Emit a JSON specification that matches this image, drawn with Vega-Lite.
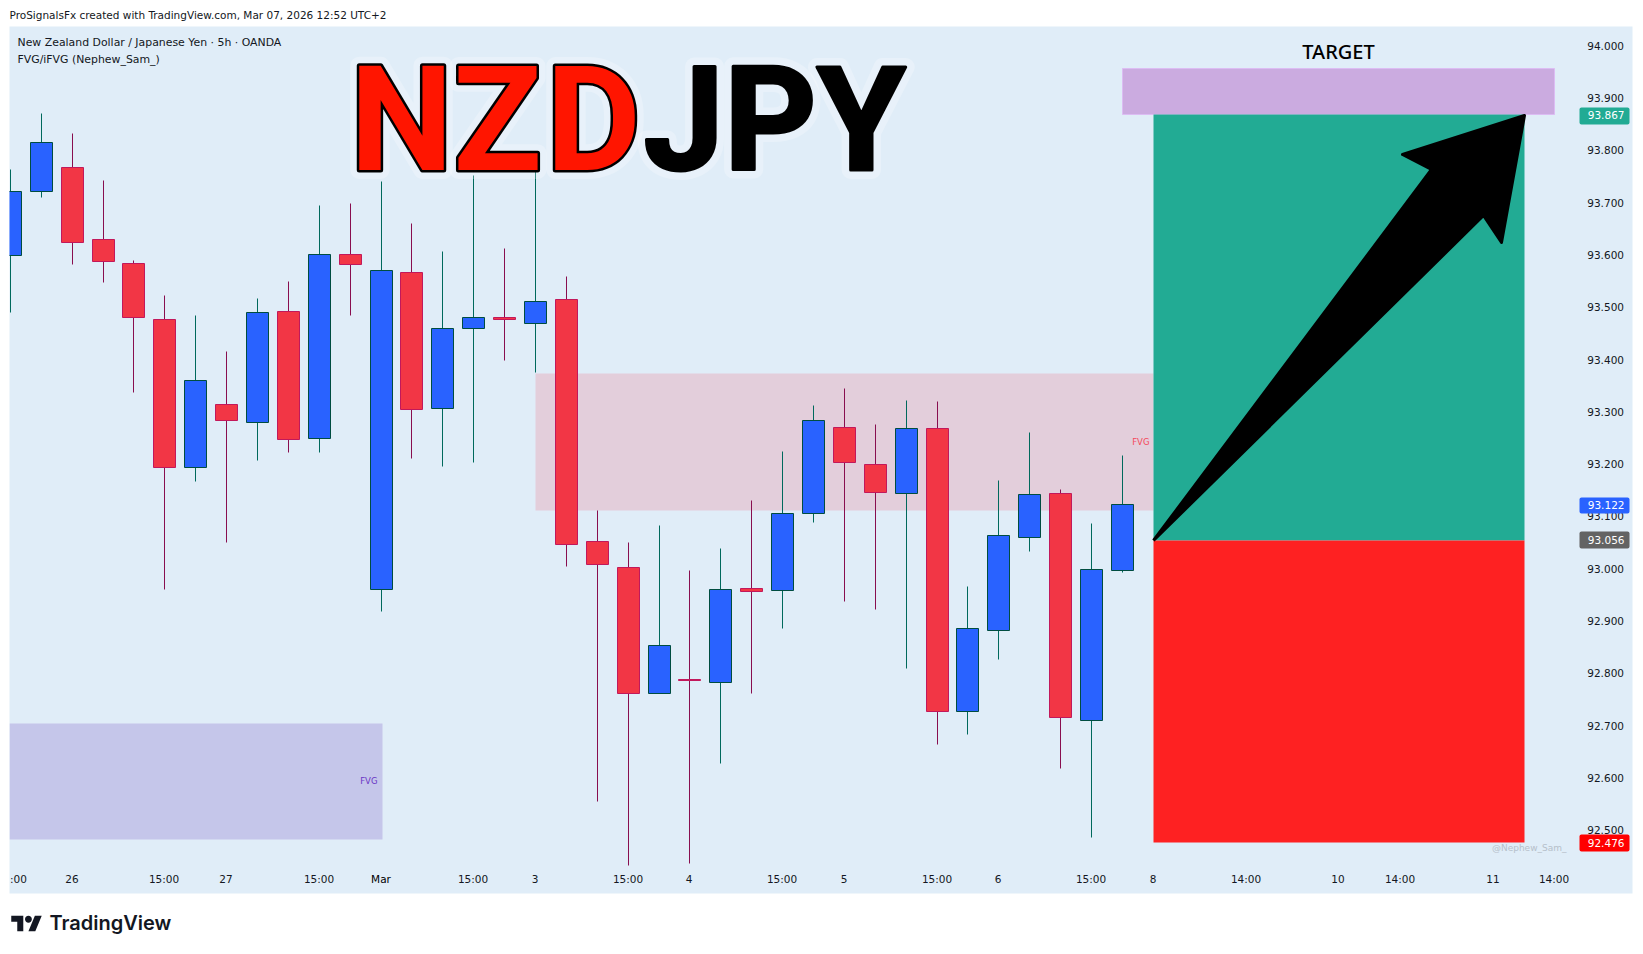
{
  "$schema": "https://vega.github.io/schema/vega-lite/v6.json",
  "background": "white",
  "autosize": {"type": "none"},
  "padding": {"left": 9.5, "top": 26.5, "right": 10.5, "bottom": 60.5},
  "width": 1623,
  "height": 867,
  "title": {
    "text": "ProSignalsFx created with TradingView.com, Mar 07, 2026 12:52 UTC+2",
    "anchor": "start",
    "frame": "group",
    "offset": 5,
    "font": "DejaVu Sans",
    "fontSize": 10.5,
    "fontWeight": "normal",
    "color": "#131722"
  },
  "config": {"view": {"fill": "#e0edf8", "stroke": null}},
  "datasets": {
    "candles": [
      {"bar": 0, "open": 93.598, "high": 93.762, "low": 93.489, "close": 93.721, "dir": "up"},
      {"bar": 1, "open": 93.721, "high": 93.869, "low": 93.709, "close": 93.814, "dir": "up"},
      {"bar": 2, "open": 93.767, "high": 93.832, "low": 93.580, "close": 93.623, "dir": "down"},
      {"bar": 3, "open": 93.629, "high": 93.742, "low": 93.546, "close": 93.587, "dir": "down"},
      {"bar": 4, "open": 93.583, "high": 93.589, "low": 93.336, "close": 93.480, "dir": "down"},
      {"bar": 5, "open": 93.476, "high": 93.521, "low": 92.959, "close": 93.193, "dir": "down"},
      {"bar": 6, "open": 93.193, "high": 93.484, "low": 93.165, "close": 93.359, "dir": "up"},
      {"bar": 7, "open": 93.313, "high": 93.415, "low": 93.049, "close": 93.283, "dir": "down"},
      {"bar": 8, "open": 93.279, "high": 93.515, "low": 93.206, "close": 93.489, "dir": "up"},
      {"bar": 9, "open": 93.491, "high": 93.549, "low": 93.221, "close": 93.247, "dir": "down"},
      {"bar": 10, "open": 93.248, "high": 93.693, "low": 93.221, "close": 93.600, "dir": "up"},
      {"bar": 11, "open": 93.600, "high": 93.697, "low": 93.483, "close": 93.581, "dir": "down"},
      {"bar": 12, "open": 92.960, "high": 93.739, "low": 92.918, "close": 93.570, "dir": "up"},
      {"bar": 13, "open": 93.566, "high": 93.660, "low": 93.209, "close": 93.304, "dir": "down"},
      {"bar": 14, "open": 93.306, "high": 93.605, "low": 93.195, "close": 93.459, "dir": "up"},
      {"bar": 15, "open": 93.459, "high": 93.752, "low": 93.203, "close": 93.480, "dir": "up"},
      {"bar": 16, "open": 93.480, "high": 93.612, "low": 93.398, "close": 93.475, "dir": "down"},
      {"bar": 17, "open": 93.468, "high": 93.768, "low": 93.374, "close": 93.510, "dir": "up"},
      {"bar": 18, "open": 93.514, "high": 93.557, "low": 93.003, "close": 93.046, "dir": "down"},
      {"bar": 19, "open": 93.051, "high": 93.111, "low": 92.553, "close": 93.007, "dir": "down"},
      {"bar": 20, "open": 93.002, "high": 93.050, "low": 92.431, "close": 92.761, "dir": "down"},
      {"bar": 21, "open": 92.761, "high": 93.081, "low": 92.761, "close": 92.853, "dir": "up"},
      {"bar": 22, "open": 92.788, "high": 92.995, "low": 92.435, "close": 92.785, "dir": "down"},
      {"bar": 23, "open": 92.782, "high": 93.037, "low": 92.626, "close": 92.960, "dir": "up"},
      {"bar": 24, "open": 92.962, "high": 93.130, "low": 92.760, "close": 92.956, "dir": "down"},
      {"bar": 25, "open": 92.958, "high": 93.224, "low": 92.884, "close": 93.105, "dir": "up"},
      {"bar": 26, "open": 93.105, "high": 93.312, "low": 93.087, "close": 93.283, "dir": "up"},
      {"bar": 27, "open": 93.270, "high": 93.343, "low": 92.936, "close": 93.203, "dir": "down"},
      {"bar": 28, "open": 93.199, "high": 93.274, "low": 92.921, "close": 93.145, "dir": "down"},
      {"bar": 29, "open": 93.143, "high": 93.320, "low": 92.808, "close": 93.268, "dir": "up"},
      {"bar": 30, "open": 93.268, "high": 93.318, "low": 92.662, "close": 92.726, "dir": "down"},
      {"bar": 31, "open": 92.726, "high": 92.966, "low": 92.682, "close": 92.885, "dir": "up"},
      {"bar": 32, "open": 92.881, "high": 93.167, "low": 92.825, "close": 93.063, "dir": "up"},
      {"bar": 33, "open": 93.059, "high": 93.259, "low": 93.032, "close": 93.141, "dir": "up"},
      {"bar": 34, "open": 93.143, "high": 93.150, "low": 92.617, "close": 92.715, "dir": "down"},
      {"bar": 35, "open": 92.709, "high": 93.085, "low": 92.485, "close": 92.998, "dir": "up"},
      {"bar": 36, "open": 92.996, "high": 93.215, "low": 92.991, "close": 93.122, "dir": "up"}
    ],
    "fvg": [
      {"bar": 17, "bar2": 37, "top": 93.373, "bottom": 93.110, "kind": "bearish"},
      {"bar": -0.029, "bar2": 12.03, "top": 92.704, "bottom": 92.482, "kind": "bullish"}
    ],
    "fvgLabels": [
      {"bar": 36.86, "price": 93.242, "label": "FVG", "kind": "bearish"},
      {"bar": 11.87, "price": 92.594, "label": "FVG", "kind": "bullish"}
    ],
    "target": [
      {"bar": 36, "bar2": 50, "top": 93.956, "bottom": 93.868}
    ],
    "position": [
      {"bar": 37, "bar2": 49, "top": 93.867, "bottom": 93.054, "kind": "reward"},
      {"bar": 37, "bar2": 49, "top": 93.054, "bottom": 92.476, "kind": "risk"}
    ],
    "arrow": [
      {"step": 0, "bar": 37.0, "price": 93.054},
      {"step": 1, "bar": 46.02, "price": 93.763},
      {"step": 2, "bar": 45.06, "price": 93.792},
      {"step": 3, "bar": 49.03, "price": 93.865},
      {"step": 4, "bar": 48.28, "price": 93.622},
      {"step": 5, "bar": 47.69, "price": 93.675},
      {"step": 6, "bar": 37.0, "price": 93.054}
    ],
    "tags": [
      {"bar": 50.81, "bar2": 52.41, "top": 93.881, "bottom": 93.849, "price": 93.865, "label": "93.867", "kind": "target"},
      {"bar": 50.81, "bar2": 52.41, "top": 93.136, "bottom": 93.104, "price": 93.120, "label": "93.122", "kind": "last"},
      {"bar": 50.81, "bar2": 52.41, "top": 93.070, "bottom": 93.038, "price": 93.054, "label": "93.056", "kind": "entry"},
      {"bar": 50.81, "bar2": 52.41, "top": 92.490, "bottom": 92.458, "price": 92.474, "label": "92.476", "kind": "stop"}
    ],
    "headline": [
      {"bar": 0.246, "price": 94.005, "label": "New Zealand Dollar / Japanese Yen · 5h · OANDA"},
      {"bar": 0.246, "price": 93.972, "label": "FVG/iFVG (Nephew_Sam_)"}
    ],
    "base": [
      {"bar": 12.67, "price": 93.763, "label": "N"},
      {"bar": 15.76, "price": 93.763, "label": "Z"},
      {"bar": 18.88, "price": 93.763, "label": "D"}
    ],
    "quote": [{"bar": 20.5, "price": 93.763, "label": "JPY"}],
    "targetLabel": [{"bar": 43, "price": 93.987, "label": "TARGET"}],
    "watermark": [{"bar": 50.36, "price": 92.466, "label": "@Nephew_Sam_"}],
    "brand": [{"bar": 1.25, "price": 92.321, "label": "TradingView"}],
    "brandLogo": [{"bar": 0.53, "price": 92.321}]
  },
  "layer": [
    {
      "data": {"name": "fvg"},
      "mark": {"type": "rect", "clip": true},
      "encoding": {
        "x": {
          "field": "bar", "type": "quantitative", "title": null,
          "scale": {"domain": [-0.029, 52.512], "round": true, "padding": 0},
          "axis": {
            "orient": "bottom", "values": [0, 2, 5, 7, 10, 12, 15, 17, 20, 22, 25, 27, 30, 32, 35, 37, 40, 43, 45, 48, 50],
            "labelExpr": "{'0':':00','2':'26','5':'15:00','7':'27','10':'15:00','12':'Mar','15':'15:00','17':'3','20':'15:00','22':'4','25':'15:00','27':'5','30':'15:00','32':'6','35':'15:00','37':'8','40':'14:00','43':'10','45':'14:00','48':'11','50':'14:00'}[datum.value]",
            "labelAlign": {"condition": {"test": "datum.value == 0", "value": "left"}, "value": "center"},
            "labelColor": {"condition": {"test": "datum.value == 12", "value": "#000000"}, "value": "#131722"},
            "labelOffset": -1,
            "labelBaseline": "middle", "labelPadding": -14, "labelFont": "DejaVu Sans", "labelFontSize": 10.5,
            "labelOverlap": false, "labelBound": false, "labelFlush": false, "grid": false, "ticks": false, "domain": false
          }
        },
        "x2": {"field": "bar2"},
        "y": {
          "field": "top", "type": "quantitative", "title": null,
          "scale": {"domain": [92.378, 94.036], "round": true},
          "axis": {
            "orient": "right", "values": [92.5, 92.6, 92.7, 92.8, 92.9, 93, 93.1, 93.2, 93.3, 93.4, 93.5, 93.6, 93.7, 93.8, 93.9, 94],
            "labelOffset": 1,
            "format": ".3f", "labelAlign": "right", "labelPadding": -9, "labelFont": "DejaVu Sans", "labelFontSize": 10.5, "labelColor": "#131722",
            "labelOverlap": false, "labelBound": false, "labelFlush": false, "grid": false, "ticks": false, "domain": false
          }
        },
        "y2": {"field": "bottom"},
        "color": {"field": "kind", "type": "nominal", "legend": null, "scale": {"domain": ["bearish", "bullish"], "range": ["#e3cedb", "#c5c6ea"]}}
      }
    },
    {
      "data": {"name": "fvgLabels"},
      "mark": {"type": "text", "align": "right", "baseline": "middle", "font": "DejaVu Sans", "fontSize": 8.5},
      "encoding": {
        "x": {"field": "bar", "type": "quantitative", "scale": {"domain": [-0.029, 52.512], "round": true, "padding": 0}},
        "y": {"field": "price", "type": "quantitative", "scale": {"domain": [92.378, 94.036], "round": true}},
        "text": {"field": "label"},
        "color": {"field": "kind", "type": "nominal", "legend": null, "scale": {"domain": ["bearish", "bullish"], "range": ["#f4485a", "#6a35c5"]}}
      }
    },
    {
      "data": {"name": "candles"},
      "mark": {"type": "rule", "strokeWidth": 1, "clip": true},
      "encoding": {
        "x": {"field": "bar", "type": "quantitative", "scale": {"domain": [-0.029, 52.512], "round": true, "padding": 0}},
        "y": {"field": "low", "type": "quantitative", "scale": {"domain": [92.378, 94.036], "round": true}},
        "y2": {"field": "high"},
        "color": {"field": "dir", "type": "nominal", "legend": null, "scale": {"domain": ["up", "down"], "range": ["#00695c", "#880e4f"]}}
      }
    },
    {
      "data": {"name": "candles"},
      "mark": {"type": "bar", "size": 22, "strokeWidth": 1, "clip": true, "orient": "vertical"},
      "encoding": {
        "x": {"field": "bar", "type": "quantitative", "scale": {"domain": [-0.029, 52.512], "round": true, "padding": 0}},
        "y": {"field": "open", "type": "quantitative", "scale": {"domain": [92.378, 94.036], "round": true}},
        "y2": {"field": "close"},
        "fill": {"field": "dir", "type": "nominal", "legend": null, "scale": {"domain": ["up", "down"], "range": ["#2962ff", "#f23645"]}},
        "stroke": {"field": "dir", "type": "nominal", "legend": null, "scale": {"domain": ["up", "down"], "range": ["#004d40", "#c2185b"]}}
      }
    },
    {
      "data": {"name": "target"},
      "mark": {"type": "rect", "color": "#cbabe0", "stroke": "#dcbcf3", "strokeWidth": 1},
      "encoding": {
        "x": {"field": "bar", "type": "quantitative", "scale": {"domain": [-0.029, 52.512], "round": true, "padding": 0}},
        "x2": {"field": "bar2"},
        "y": {"field": "top", "type": "quantitative", "scale": {"domain": [92.378, 94.036], "round": true}},
        "y2": {"field": "bottom"}
      }
    },
    {
      "data": {"name": "position"},
      "mark": {"type": "rect"},
      "encoding": {
        "x": {"field": "bar", "type": "quantitative", "scale": {"domain": [-0.029, 52.512], "round": true, "padding": 0}},
        "x2": {"field": "bar2"},
        "y": {"field": "top", "type": "quantitative", "scale": {"domain": [92.378, 94.036], "round": true}},
        "y2": {"field": "bottom"},
        "fill": {"field": "kind", "type": "nominal", "legend": null, "scale": {"domain": ["reward", "risk"], "range": ["#22ab94", "#fe2122"]}}
      }
    },
    {
      "data": {"name": "arrow"},
      "mark": {"type": "line", "color": "black", "fill": "black", "strokeWidth": 3, "strokeJoin": "round"},
      "encoding": {
        "x": {"field": "bar", "type": "quantitative", "scale": {"domain": [-0.029, 52.512], "round": true, "padding": 0}},
        "y": {"field": "price", "type": "quantitative", "scale": {"domain": [92.378, 94.036], "round": true}},
        "order": {"field": "step"}
      }
    },
    {
      "data": {"name": "tags"},
      "mark": {"type": "rect", "cornerRadius": 2},
      "encoding": {
        "x": {"field": "bar", "type": "quantitative", "scale": {"domain": [-0.029, 52.512], "round": true, "padding": 0}},
        "x2": {"field": "bar2"},
        "y": {"field": "top", "type": "quantitative", "scale": {"domain": [92.378, 94.036], "round": true}},
        "y2": {"field": "bottom"},
        "fill": {"field": "kind", "type": "nominal", "legend": null, "scale": {"domain": ["target", "last", "entry", "stop"], "range": ["#22ab94", "#2962ff", "#636363", "#ff0000"]}}
      }
    },
    {
      "data": {"name": "tags"},
      "mark": {"type": "text", "align": "right", "baseline": "middle", "dx": -5, "font": "DejaVu Sans", "fontSize": 10.5, "color": "white"},
      "encoding": {
        "x": {"field": "bar2", "type": "quantitative", "scale": {"domain": [-0.029, 52.512], "round": true, "padding": 0}},
        "y": {"field": "price", "type": "quantitative", "scale": {"domain": [92.378, 94.036], "round": true}},
        "text": {"field": "label"}
      }
    },
    {
      "data": {"name": "headline"},
      "mark": {"type": "text", "align": "left", "baseline": "middle", "font": "DejaVu Sans", "fontSize": 10.9, "color": "#131722"},
      "encoding": {
        "x": {"field": "bar", "type": "quantitative", "scale": {"domain": [-0.029, 52.512], "round": true, "padding": 0}},
        "y": {"field": "price", "type": "quantitative", "scale": {"domain": [92.378, 94.036], "round": true}},
        "text": {"field": "label"}
      }
    },
    {
      "data": {"name": "base"},
      "mark": {"type": "text", "align": "center", "baseline": "alphabetic", "font": "Roboto", "fontWeight": 700, "fontSize": 146, "stroke": "white", "strokeWidth": 18, "strokeOpacity": 0.25, "strokeJoin": "round", "fill": "white"},
      "encoding": {
        "x": {"field": "bar", "type": "quantitative", "scale": {"domain": [-0.029, 52.512], "round": true, "padding": 0}},
        "y": {"field": "price", "type": "quantitative", "scale": {"domain": [92.378, 94.036], "round": true}},
        "text": {"field": "label"}
      }
    },
    {
      "data": {"name": "quote"},
      "mark": {"type": "text", "align": "left", "baseline": "alphabetic", "font": "Roboto", "fontWeight": 700, "fontSize": 144, "stroke": "white", "strokeWidth": 18, "strokeOpacity": 0.25, "strokeJoin": "round", "fill": "white"},
      "encoding": {
        "x": {"field": "bar", "type": "quantitative", "scale": {"domain": [-0.029, 52.512], "round": true, "padding": 0}},
        "y": {"field": "price", "type": "quantitative", "scale": {"domain": [92.378, 94.036], "round": true}},
        "text": {"field": "label"}
      }
    },
    {
      "data": {"name": "base"},
      "mark": {"type": "text", "align": "center", "baseline": "alphabetic", "font": "Roboto", "fontWeight": 700, "fontSize": 146, "stroke": "black", "strokeWidth": 5, "strokeJoin": "round", "fill": "black"},
      "encoding": {
        "x": {"field": "bar", "type": "quantitative", "scale": {"domain": [-0.029, 52.512], "round": true, "padding": 0}},
        "y": {"field": "price", "type": "quantitative", "scale": {"domain": [92.378, 94.036], "round": true}},
        "text": {"field": "label"}
      }
    },
    {
      "data": {"name": "base"},
      "mark": {"type": "text", "align": "center", "baseline": "alphabetic", "font": "Roboto", "fontWeight": 700, "fontSize": 146, "fill": "#ff1500"},
      "encoding": {
        "x": {"field": "bar", "type": "quantitative", "scale": {"domain": [-0.029, 52.512], "round": true, "padding": 0}},
        "y": {"field": "price", "type": "quantitative", "scale": {"domain": [92.378, 94.036], "round": true}},
        "text": {"field": "label"}
      }
    },
    {
      "data": {"name": "quote"},
      "mark": {"type": "text", "align": "left", "baseline": "alphabetic", "font": "Roboto", "fontWeight": 700, "fontSize": 144, "stroke": "black", "strokeWidth": 3, "strokeJoin": "round", "fill": "black"},
      "encoding": {
        "x": {"field": "bar", "type": "quantitative", "scale": {"domain": [-0.029, 52.512], "round": true, "padding": 0}},
        "y": {"field": "price", "type": "quantitative", "scale": {"domain": [92.378, 94.036], "round": true}},
        "text": {"field": "label"}
      }
    },
    {
      "data": {"name": "targetLabel"},
      "mark": {"type": "text", "align": "center", "baseline": "middle", "font": "Noto Sans", "fontWeight": 500, "fontSize": 20, "color": "black"},
      "encoding": {
        "x": {"field": "bar", "type": "quantitative", "scale": {"domain": [-0.029, 52.512], "round": true, "padding": 0}},
        "y": {"field": "price", "type": "quantitative", "scale": {"domain": [92.378, 94.036], "round": true}},
        "text": {"field": "label"}
      }
    },
    {
      "data": {"name": "watermark"},
      "mark": {"type": "text", "align": "right", "baseline": "middle", "font": "DejaVu Sans", "fontSize": 9, "color": "#b6c0ca"},
      "encoding": {
        "x": {"field": "bar", "type": "quantitative", "scale": {"domain": [-0.029, 52.512], "round": true, "padding": 0}},
        "y": {"field": "price", "type": "quantitative", "scale": {"domain": [92.378, 94.036], "round": true}},
        "text": {"field": "label"}
      }
    },
    {
      "data": {"name": "brand"},
      "mark": {"type": "text", "align": "left", "baseline": "middle", "font": "Inter", "fontWeight": 600, "fontSize": 20, "color": "#131722"},
      "encoding": {
        "x": {"field": "bar", "type": "quantitative", "scale": {"domain": [-0.029, 52.512], "round": true, "padding": 0}},
        "y": {"field": "price", "type": "quantitative", "scale": {"domain": [92.378, 94.036], "round": true}},
        "text": {"field": "label"}
      }
    },
    {
      "data": {"name": "brandLogo"},
      "mark": {"type": "point", "filled": true, "opacity": 1, "color": "#131722", "size": 930, "shape": "M-0.211 0.507H-0.606V-0.113H-1V-0.507H-0.211ZM0.577 0.507H0.127L0.549 -0.507H1ZM-0.098 -0.282A0.225 0.225 0 1 0 0.352 -0.282A0.225 0.225 0 1 0 -0.098 -0.282Z"},
      "encoding": {
        "x": {"field": "bar", "type": "quantitative", "scale": {"domain": [-0.029, 52.512], "round": true, "padding": 0}},
        "y": {"field": "price", "type": "quantitative", "scale": {"domain": [92.378, 94.036], "round": true}}
      }
    }
  ],
  "resolve": {"scale": {"color": "independent", "fill": "independent", "stroke": "independent"}}
}
